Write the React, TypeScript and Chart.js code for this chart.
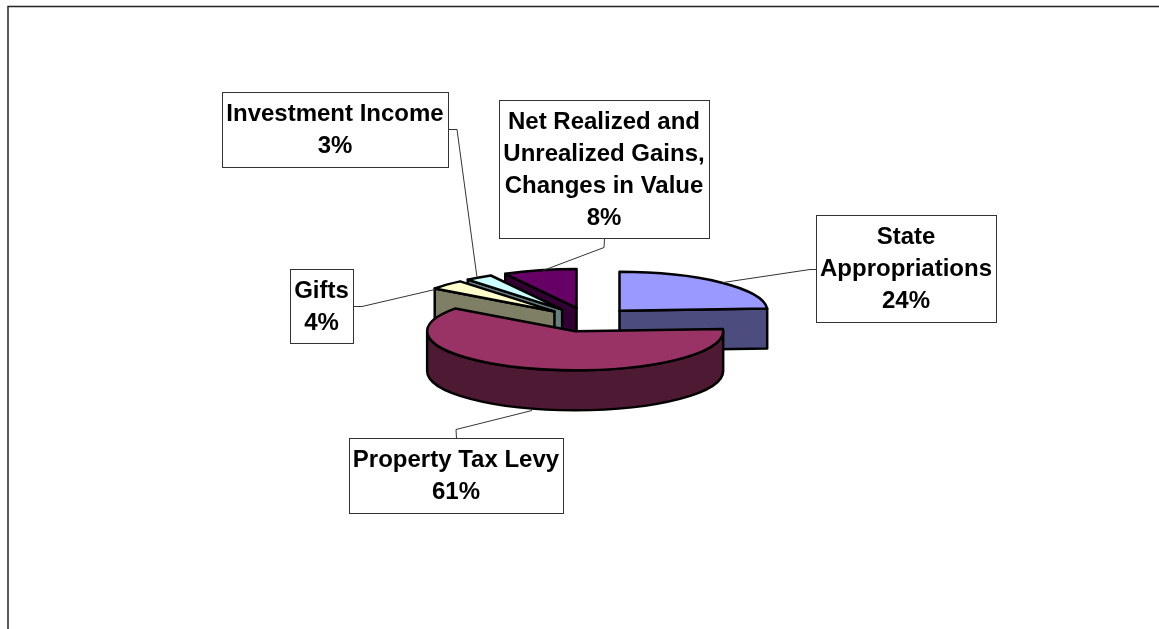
import React, { useEffect, useRef } from "react";
import { Chart, registerables } from "chart.js";

Chart.register(...registerables);

const categories = ["State Appropriations", "Property Tax Levy", "Gifts", "Investment Income", "Net Realized and Unrealized Gains, Changes in Value"];
const values = [24, 61, 4, 3, 8];
const topColors = ["#9999FF", "#993366", "#FFFFCC", "#CCFFFF", "#660066"];
const wallColors = ["#4C4C7F", "#4D1933", "#7F7F66", "#668080", "#330033"];
const labelLines = [
  ["State", "Appropriations", "24%"],
  ["Property Tax Levy", "61%"],
  ["Gifts", "4%"],
  ["Investment Income", "3%"],
  ["Net Realized and", "Unrealized Gains,", "Changes in Value", "8%"],
];
// label boxes [x0, y0, x1, y1] and leader polylines
const labelBoxes = [
  [816, 215, 996, 322],
  [349, 438, 563, 513],
  [290, 269, 353, 343],
  [222, 92, 448, 167],
  [499, 100, 709, 238],
];
const leaders = [
  [[816, 269], [810, 269], [723, 282]],
  [[456, 438], [456, 429], [532, 410]],
  [[353, 306], [362, 306], [435, 289]],
  [[448, 129], [457, 129], [477, 277]],
  [[604, 238], [604, 247], [543, 270]],
];
const drawOrder = [0, 4, 3, 2, 1];

const SQUASH = 0.2635;
const EXPLODE = 46;
const DEPTH = 40;
const RADIUS = 148;

const pie3d = {
  id: "pie3d",
  beforeDraw(chart: any) {
    const ctx = chart.ctx;
    ctx.save();
    ctx.strokeStyle = "#222";
    ctx.lineWidth = 1.5;
    ctx.beginPath();
    ctx.moveTo(8, 629);
    ctx.lineTo(8, 6.5);
    ctx.lineTo(1159, 6.5);
    ctx.stroke();
    ctx.restore();
  },
  beforeDatasetDraw(chart: any, args: any) {
    const ctx = chart.ctx;
    const arcs = chart.getDatasetMeta(args.index).data;
    for (const i of drawOrder) {
      const arc = arcs[i];
      const { x, y, startAngle: a0, endAngle: a1, outerRadius: r } = arc.getProps(["x", "y", "startAngle", "endAngle", "outerRadius"], true);
      const mid = (a0 + a1) / 2;
      const cx = x + Math.cos(mid) * EXPLODE;
      const cy = y + Math.sin(mid) * EXPLODE * SQUASH;
      const rim = (a: number) => [cx + r * Math.cos(a), cy + r * SQUASH * Math.sin(a)];

      ctx.save();
      ctx.lineJoin = "round";
      ctx.lineWidth = 2.5;
      ctx.strokeStyle = "#000";
      ctx.fillStyle = wallColors[i];
      const face = (a: number) => {
        const [rx, ry] = rim(a);
        ctx.beginPath();
        ctx.moveTo(cx, cy);
        ctx.lineTo(rx, ry);
        ctx.lineTo(rx, ry + DEPTH);
        ctx.lineTo(cx, cy + DEPTH);
        ctx.closePath();
        ctx.fill();
        ctx.stroke();
      };
      if (Math.cos(a0) < -1e-6) face(a0);
      if (Math.cos(a1) > 1e-6) face(a1);
      const b0 = Math.max(a0, 0);
      const b1 = Math.min(a1, Math.PI);
      if (b1 > b0) {
        ctx.beginPath();
        ctx.ellipse(cx, cy, r, r * SQUASH, 0, b0, b1);
        ctx.ellipse(cx, cy + DEPTH, r, r * SQUASH, 0, b1, b0, true);
        ctx.closePath();
        ctx.fill();
        ctx.stroke();
      }

      // top face: the library's own arc, drawn through the squash
      ctx.save();
      ctx.translate(cx, cy);
      ctx.scale(1, SQUASH);
      ctx.translate(-x, -y);
      arc.draw(ctx);
      ctx.restore();
      // uniform outline
      ctx.save();
      ctx.translate(cx, cy);
      ctx.scale(1, SQUASH);
      ctx.beginPath();
      ctx.moveTo(0, 0);
      ctx.arc(0, 0, r, a0, a1);
      ctx.closePath();
      ctx.restore();
      ctx.stroke();
      ctx.restore();
    }
    return false;
  },
  afterDraw(chart: any) {
    const ctx = chart.ctx;
    ctx.save();
    ctx.strokeStyle = "#333";
    ctx.lineWidth = 1;
    leaders.forEach((pts) => {
      ctx.beginPath();
      pts.forEach(([px, py], k) => (k ? ctx.lineTo(px, py + 0.5) : ctx.moveTo(px + 0.5, py + 0.5)));
      ctx.stroke();
    });
    labelBoxes.forEach(([x0, y0, x1, y1], i) => {
      ctx.fillStyle = "#fff";
      ctx.fillRect(x0, y0, x1 - x0, y1 - y0);
      ctx.strokeRect(x0 + 0.5, y0 + 0.5, x1 - x0, y1 - y0);
      ctx.fillStyle = "#000";
      ctx.font = 'bold 24px "Liberation Sans", Arial, sans-serif';
      ctx.textAlign = "center";
      ctx.textBaseline = "middle";
      const lines = labelLines[i];
      const lh = 32;
      const mx = (x0 + x1) / 2;
      const my = (y0 + y1) / 2 + 1;
      lines.forEach((t, k) => ctx.fillText(t, mx, my + (k - (lines.length - 1) / 2) * lh));
    });
    ctx.restore();
  },
};

export default function App() {
  const ref = useRef<HTMLCanvasElement>(null);
  useEffect(() => {
    const chart = new Chart(ref.current as HTMLCanvasElement, {
      type: "pie",
      data: {
        labels: categories,
        datasets: [{ data: values, backgroundColor: topColors, borderWidth: 0 }],
      },
      options: {
        responsive: false,
        animation: false,
        radius: RADIUS,
        layout: { padding: { left: 17, top: 10.4 } },
        plugins: { legend: { display: false }, tooltip: { enabled: false }, title: { display: false } },
      } as any,
      plugins: [pie3d],
    });
    return () => chart.destroy();
  }, []);
  return (
    <canvas
      ref={ref}
      width={1159}
      height={629}
      style={{ position: "fixed", left: 0, top: 0, display: "block", background: "#fff" }}
    />
  );
}
